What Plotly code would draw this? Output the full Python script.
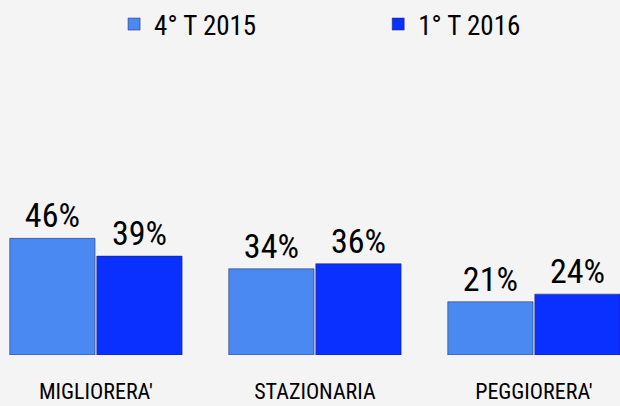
import plotly.graph_objects as go

categories = ["MIGLIORERA'", "STAZIONARIA", "PEGGIORERA'"]
series_names = ["4° T 2015", "1° T 2016"]
values_2015 = [46, 34, 21]
values_2016 = [39, 36, 24]
colors = ["#4a88f2", "#0a30ff"]
legend_ids = ["legend", "legend2"]

FONT = "Roboto Condensed, Liberation Sans Narrow, Roboto, sans-serif"

fig = go.Figure()
for name, vals, col, lg in zip(series_names, [values_2015, values_2016], colors, legend_ids):
    fig.add_trace(go.Bar(
        x=categories, y=vals, name=name, legend=lg,
        marker=dict(color=col, line=dict(color="rgba(30,30,90,0.5)", width=1)),
        text=[f"{v}%" for v in vals],
        texttemplate="%{text}",
        textposition="outside",
        textfont=dict(family=FONT, size=34, color="black"),
        cliponaxis=False,
    ))

legend_style = dict(orientation="h", xanchor="left", y=1.0, yanchor="top",
                    font=dict(family=FONT, size=27, color="black"),
                    bgcolor="rgba(0,0,0,0)")

fig.update_layout(
    width=620, height=406,
    paper_bgcolor="#f4f4f4", plot_bgcolor="#f4f4f4",
    margin=dict(l=0, r=0, t=0, b=51),
    barmode="group", bargap=0.205, bargroupgap=0.02,
    showlegend=True,
    legend=dict(x=0.184, **legend_style),
    legend2=dict(x=0.610, **legend_style),
    xaxis=dict(range=[-0.438, 2.393], showgrid=False, zeroline=False, showline=False,
               ticks="", ticklabelstandoff=21,
               tickfont=dict(family=FONT, size=22, color="black")),
    yaxis=dict(range=[0, 140], visible=False, showgrid=False, zeroline=False),
)

fig.write_html("out.html", config={"displayModeBar": False},
               post_script="document.body.style.margin='0';")
